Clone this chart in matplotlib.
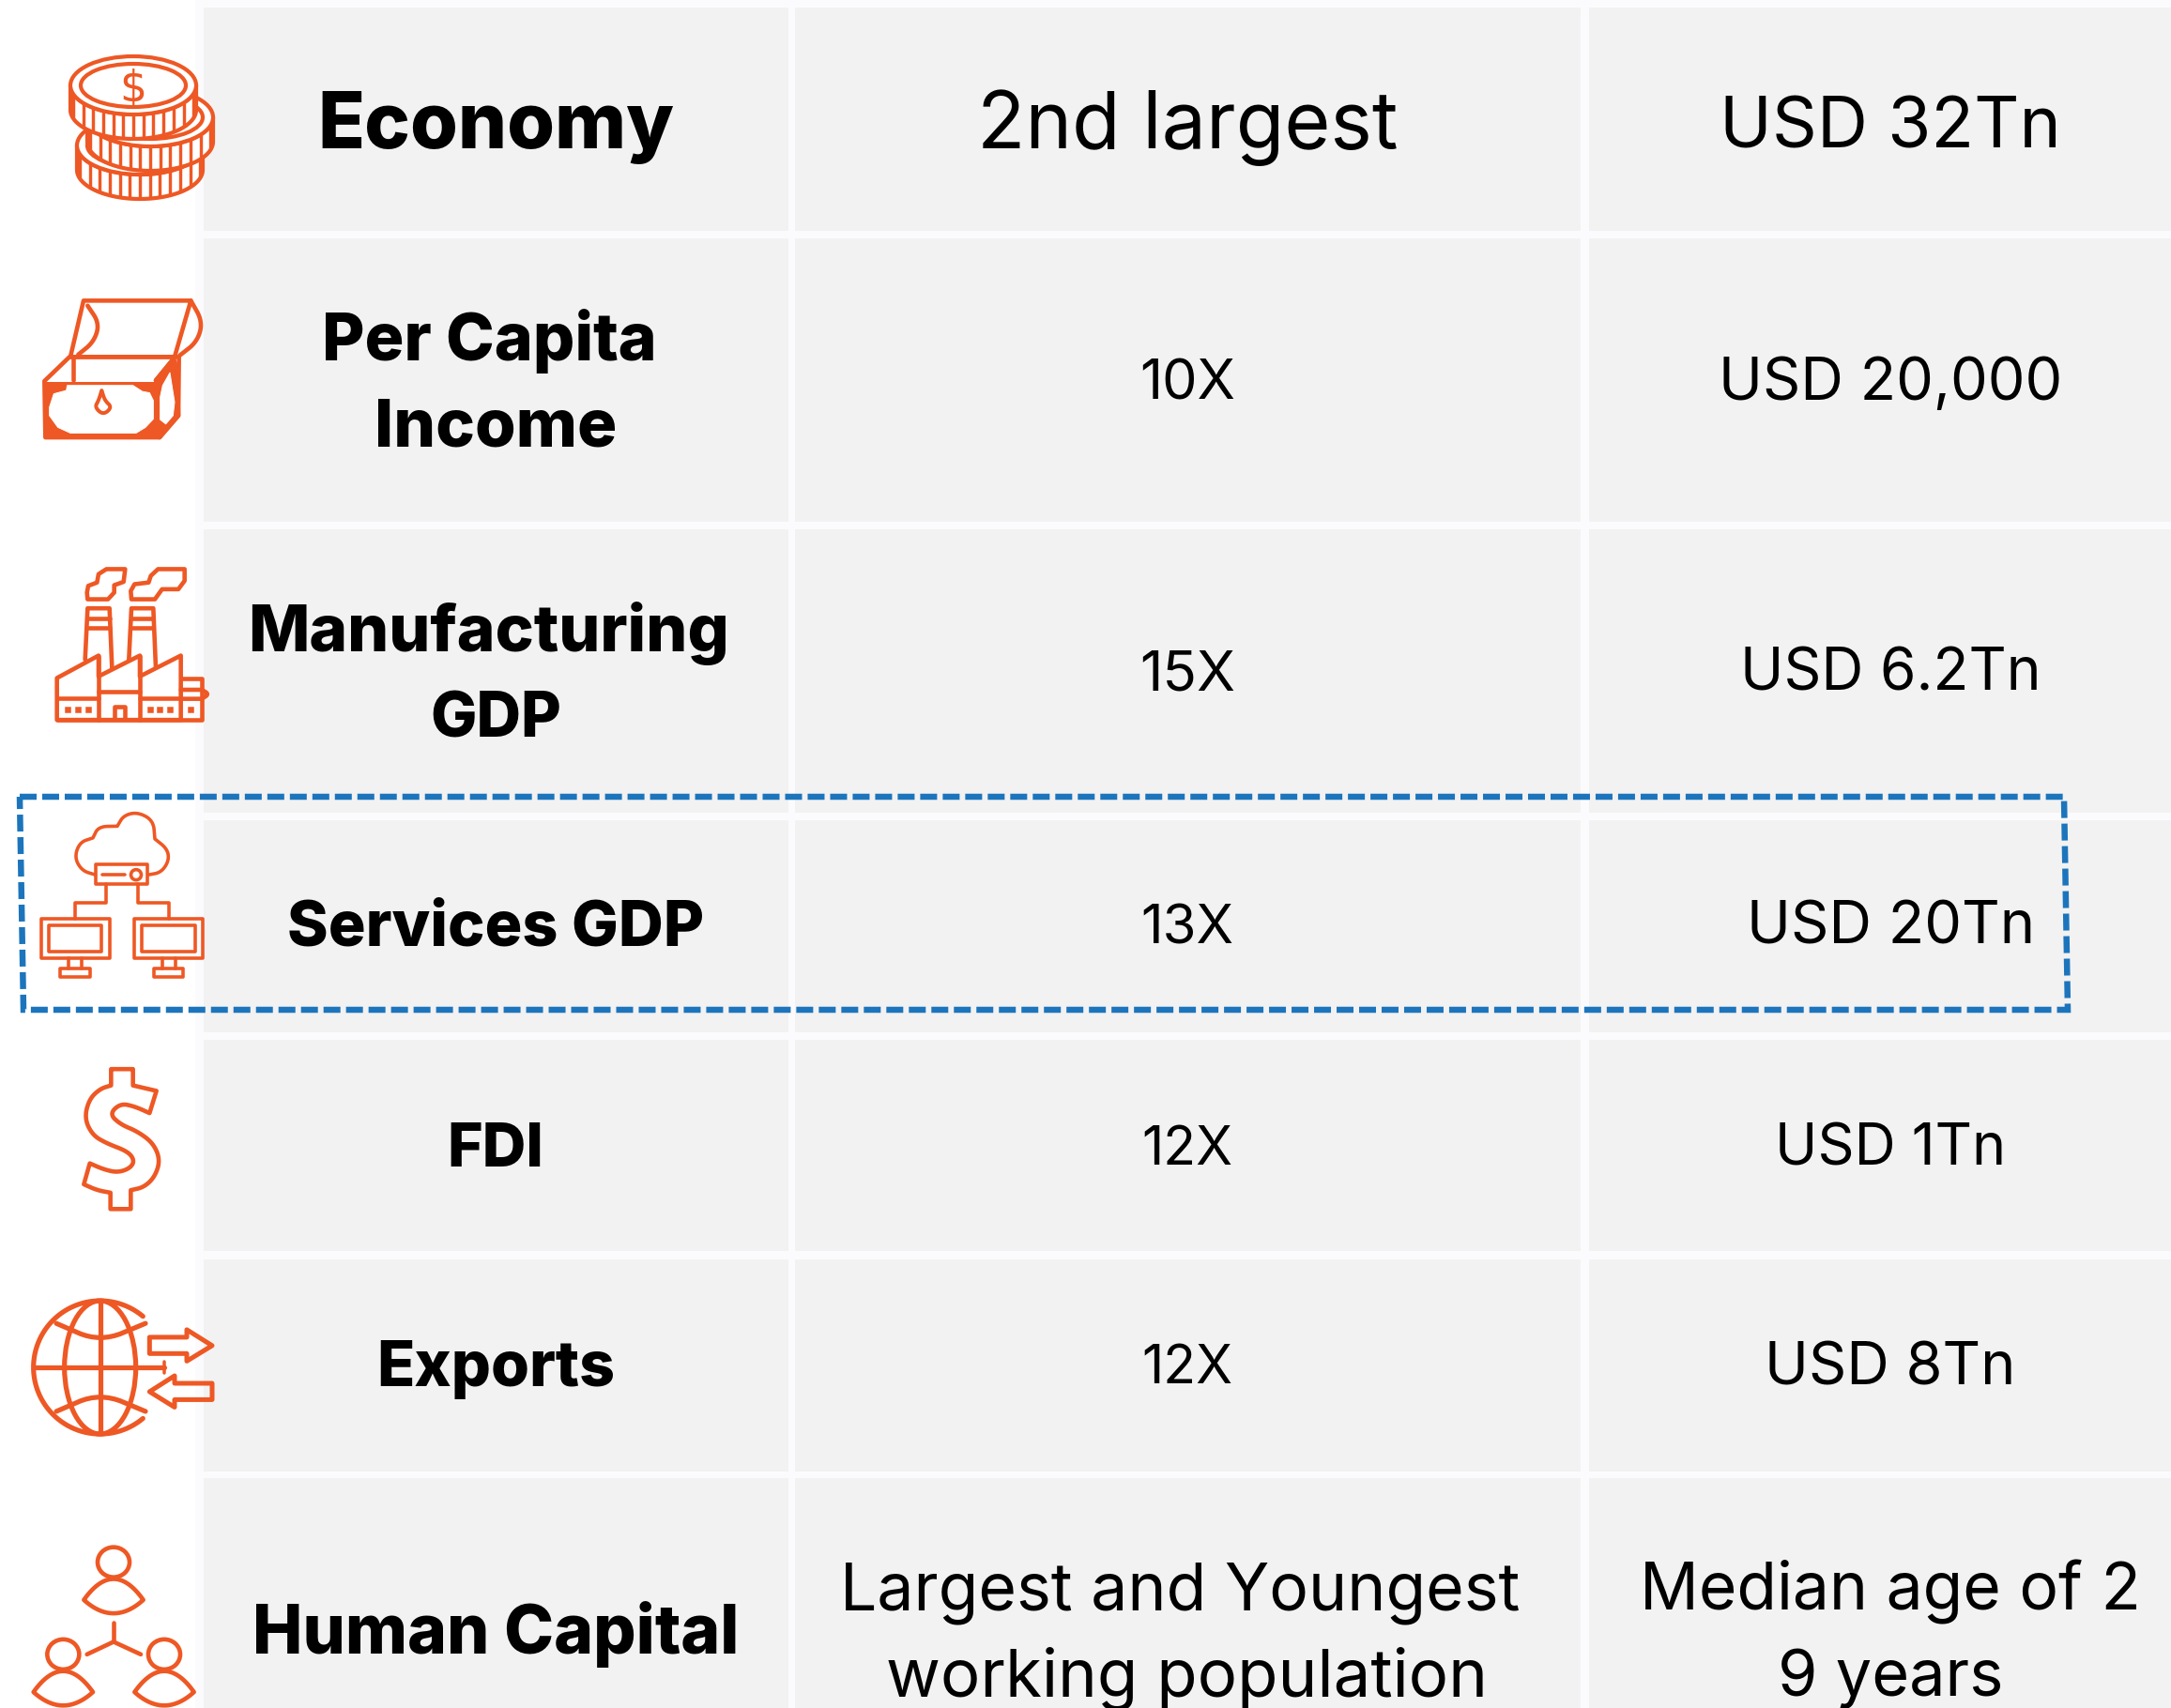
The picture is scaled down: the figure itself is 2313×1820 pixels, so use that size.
import numpy as np
import matplotlib
matplotlib.use("Agg")
import matplotlib.pyplot as plt
from matplotlib.patches import Polygon, Rectangle, Ellipse

# -- 1. Table content -------------------------------------------------
ROW_LABELS = [["Economy"], ["Per Capita", "Income"], ["Manufacturing", "GDP"],
              ["Services GDP"], ["FDI"], ["Exports"], ["Human Capital"]]
COL2_VALUES = [["2nd largest"], ["10X"], ["15X"], ["13X"], ["12X"], ["12X"],
               ["Largest and Youngest", "working population"]]
COL3_VALUES = [["USD 32Tn"], ["USD 20,000"], ["USD 6.2Tn"], ["USD 20Tn"],
               ["USD 1Tn"], ["USD 8Tn"], ["Median age of 2", "9 years"]]

# -- 2. Layout (figure pixels) ----------------------------------------
W, H, DPI = 2313, 1820, 100
ROW_EDGES = [(8, 246), (254, 556), (564, 866), (874, 1100), (1108, 1333),
             (1342, 1568), (1575, 1825)]
COL_EDGES = [(217, 840), (847, 1684), (1693, 2320)]
# text widths, line centres and baselines, same shape as the lists above
LABEL_WIDTHS = [[380], [357, 258], [513, 140], [444], [103], [254], [519]]
COL2_WIDTHS = [[448], [102], [102], [99], [97], [97], [724, 640]]
COL3_WIDTHS = [[363], [366], [320], [307], [246], [267], [534, 240]]
LABEL_X = [[528], [521, 528], [521, 528], [528], [528], [528], [528]]
COL2_X = [[1265], [1265], [1265], [1265], [1265], [1265], [1257, 1265]]
COL3_X = [[2014], [2014], [2014], [2015], [2014], [2014], [2014, 2014]]
LABEL_BASE = [[158], [384, 476], [694, 785], [1008], [1243], [1477], [1762]]
COL2_BASE = [[158], [425], [735], [1005], [1241], [1474], [1715, 1807]]
COL3_BASE = [[157], [426], [736], [1006], [1241], [1476], [1715, 1807]]
START_SIZE = 46

ORANGE = "#EE5824"
BLUE = "#1C75BC"
CELL = "#F2F2F2"
GAP = "#FBFBFD"

fig = plt.figure(figsize=(W / DPI, H / DPI), dpi=DPI, facecolor="white")
ax = fig.add_axes([0, 0, 1, 1])
ax.set_xlim(0, W)
ax.set_ylim(H, 0)
ax.axis("off")
renderer = fig.canvas.get_renderer()


def px(width):
    return width * 72 / DPI


# zoomed crop coordinates -> figure pixels
def z1(pts):
    return [(p[0] / 3, p[1] / 2.8) + tuple(p[2:]) for p in pts]


def z2(pts):
    return [(p[0] / 3, 560 + p[1] / 2.8) + tuple(p[2:]) for p in pts]


def z3(pts):
    return [(p[0] / 3, 1120 + p[1] / 2.24) + tuple(p[2:]) for p in pts]


def smooth(pts, closed=True, rounds=3):
    # corner cutting, a point given as (x, y, 1) stays a sharp corner
    arr = []
    for p in pts:
        arr.append(p[:2])
        if len(p) > 2:
            arr.append(p[:2])
    arr = np.array(arr, dtype=float)
    for _ in range(rounds):
        nxt = np.roll(arr, -1, axis=0) if closed else arr[1:]
        cur = arr if closed else arr[:-1]
        q = 0.75 * cur + 0.25 * nxt
        r = 0.25 * cur + 0.75 * nxt
        new = np.empty((len(cur) * 2, 2))
        new[0::2] = q
        new[1::2] = r
        if not closed:
            new = np.vstack([arr[0], new, arr[-1]])
        arr = new
    return arr


def shape(pts, lw=4.6, closed=True, fill="none", edge=ORANGE):
    pts = np.array([p[:2] for p in pts], dtype=float)
    ax.add_patch(Polygon(pts, closed=closed, facecolor=fill, edgecolor=edge,
                         linewidth=px(lw), joinstyle="round", capstyle="round"))


def curve(pts, lw=4.6, closed=True, fill="none"):
    shape(smooth(pts, closed), lw, closed, fill)


def oval(x, y, rx, ry, lw=4.6, fill="white"):
    ax.add_patch(Ellipse((x, y), 2 * rx, 2 * ry, facecolor=fill,
                         edgecolor=ORANGE, linewidth=px(lw)))


def put_text(x, base, line, width, weight):
    # no Poppins here, so each line is sized to the width it has in the picture
    t = ax.text(x, base, line, ha="center", va="baseline", color="black",
                family="Inter", weight=weight, fontsize=START_SIZE)
    t.set_fontsize(START_SIZE * width / t.get_window_extent(renderer).width)


# -- 3. Table cells ---------------------------------------------------
ax.add_patch(Rectangle((208, 0), W - 208, H, facecolor=GAP, edgecolor="none"))
for y0, y1 in ROW_EDGES:
    for x0, x1 in COL_EDGES:
        ax.add_patch(Rectangle((x0, y0), x1 - x0, y1 - y0, facecolor=CELL, edgecolor="none"))

# -- 4. Text ----------------------------------------------------------
for i in range(len(ROW_LABELS)):
    for j, line in enumerate(ROW_LABELS[i]):
        put_text(LABEL_X[i][j], LABEL_BASE[i][j], line, LABEL_WIDTHS[i][j], 800)
    for j, line in enumerate(COL2_VALUES[i]):
        put_text(COL2_X[i][j], COL2_BASE[i][j], line, COL2_WIDTHS[i][j], "normal")
    for j, line in enumerate(COL3_VALUES[i]):
        put_text(COL3_X[i][j], COL3_BASE[i][j], line, COL3_WIDTHS[i][j], "normal")


# -- 5. Icons ---------------------------------------------------------
def coin(cx, cy, order):
    rx, ry, depth = 67, 31, 26
    t = np.linspace(0, np.pi, 60)
    lower = np.column_stack([cx + rx * np.cos(t), cy + ry * np.sin(t)])
    before = len(ax.patches)
    shape(np.vstack([[[cx + rx, cy]], lower + [0, depth], [[cx - rx, cy]]]), lw=4.2, fill="white")
    shape(lower, lw=4.2, closed=False)
    for k in range(-6, 7):
        dx = k * 10.7
        y0 = cy + ry * np.sqrt(1 - (dx / rx) ** 2)
        ax.plot([cx + dx, cx + dx], [y0, y0 + depth - 1], color=ORANGE, lw=px(3.4),
                zorder=order + 0.05, solid_capstyle="butt")
    oval(cx, cy, rx, ry, lw=4.2, fill="white")
    oval(cx, cy, 56, 23, lw=4.2, fill="white")
    for p in ax.patches[before:]:
        p.set_zorder(order)


coin(149, 155, 1.1)
coin(160, 125, 1.2)
coin(142, 91, 1.3)
ax.text(142, 108, "$", color=ORANGE, ha="center", va="baseline", fontsize=33, family="DejaVu Sans", zorder=2)

# chest
shape(z1([(267, 897), (610, 897), (558, 1065), (225, 1065)]))
curve(z1([(280, 912, 1), (318, 965), (300, 1020), (250, 1058, 1)]), closed=False)
curve(z1([(610, 897, 1), (648, 960), (630, 1020), (575, 1060, 1)]), closed=False)
shape(z1([(142, 1137), (222, 1065), (572, 1065), (570, 1240), (510, 1305), (145, 1305)]))
shape(z1([(235, 1065), (235, 1135)]), closed=False)
shape(z1([(498, 1135), (555, 1070)]), closed=False)
shape(z1([(142, 1140), (505, 1140), (505, 1305), (145, 1305)]), lw=1, fill=ORANGE)
shape(z1([(215, 1150), (425, 1150), (455, 1168), (478, 1172), (490, 1195), (490, 1250), (465, 1275),
          (435, 1292), (225, 1292), (185, 1275), (158, 1240), (158, 1215), (172, 1175), (212, 1165)]),
      lw=1, fill="white", edge="white")
shape(z1([(565, 1100), (570, 1240), (510, 1305), (505, 1140), (498, 1135), (555, 1070)]), lw=4.6, fill=ORANGE)
shape(z1([(543, 1112), (558, 1200), (553, 1240), (530, 1265), (512, 1252), (512, 1185), (520, 1150)]),
      lw=1, fill="white", edge="white")
curve(z1([(325, 1165, 1), (335, 1195), (358, 1215), (330, 1238), (303, 1215), (315, 1195)]), lw=4)

# factory
shape(z2([(280, 220), (345, 220), (365, 200), (365, 178), (395, 168), (400, 130), (340, 130),
          (315, 145), (310, 170), (282, 180), (278, 200)]))
shape(z2([(420, 220), (495, 220), (518, 190), (570, 190), (590, 165), (590, 130), (505, 130),
          (482, 150), (475, 170), (430, 175), (418, 195)]))
for off in (0, 140):
    shape(z2([(272 + off, 400), (280 + off, 247), (350 + off, 247), (358 + off, 425)]), closed=False)
    shape(z2([(280 + off, 277), (350 + off, 277)]), closed=False)
    shape(z2([(280 + off, 305), (350 + off, 305)]), closed=False)
shape(z2([(182, 580), (182, 455), (315, 388), (315, 450), (447, 388), (447, 450), (578, 388), (578, 580)]),
      fill="white")
shape(z2([(182, 580), (645, 580), (645, 455), (578, 455)]), closed=False)
for x in (315, 447):
    shape(z2([(x, 388), (x, 580)]), closed=False)
shape(z2([(182, 515), (315, 515)]), closed=False)
shape(z2([(315, 495), (447, 495)]), closed=False)
shape(z2([(447, 515), (578, 515)]), closed=False)
curve(z2([(578, 490, 1), (645, 490, 1), (668, 503), (645, 517, 1), (578, 517, 1)]), closed=False)
shape(z2([(365, 578), (365, 540), (398, 540), (398, 578)]), closed=False)
for x in (215, 249, 282, 480, 510, 543, 609):
    shape(z2([(x - 9, 540), (x + 9, 540), (x + 9, 556), (x - 9, 556)]), lw=0.5, fill=ORANGE)

# cloud and computers
LW = 3.6
curve(z2([(305, 1042, 1), (262, 1030), (238, 990), (255, 945), (297, 932, 1), (315, 898), (375, 897, 1),
          (395, 865), (440, 855), (490, 880), (495, 935, 1), (535, 965), (540, 1000), (515, 1035),
          (475, 1042, 1)]), lw=LW, closed=False)
shape(z2([(307, 1012), (472, 1012), (472, 1070), (307, 1070)]), lw=LW)
shape(z2([(328, 1042), (400, 1042)]), lw=LW, closed=False)
oval(435 / 3, 560 + 1042 / 2.8, 5.5, 5.5, lw=LW, fill="none")
shape(z2([(340, 1070), (340, 1125), (240, 1125), (240, 1172)]), lw=LW, closed=False)
shape(z2([(440, 1070), (440, 1125), (540, 1125), (540, 1172)]), lw=LW, closed=False)
for off in (0, 298):
    shape(z2([(132 + off, 1172), (350 + off, 1172), (350 + off, 1292), (132 + off, 1292)]), lw=LW)
    shape(z2([(155 + off, 1192), (325 + off, 1192), (325 + off, 1270), (155 + off, 1270)]), lw=LW)
    shape(z2([(220 + off, 1292), (220 + off, 1322)]), lw=LW, closed=False)
    shape(z2([(262 + off, 1292), (262 + off, 1322)]), lw=LW, closed=False)
    shape(z2([(193 + off, 1322), (288 + off, 1322), (288 + off, 1348), (193 + off, 1348)]), lw=LW)

# big dollar
curve(z3([(355, 43, 1), (425, 43, 1), (425, 82, 1), (500, 95, 1), (478, 148, 1), (430, 132), (385, 125),
          (350, 150), (385, 175), (440, 192), (490, 220), (512, 260), (495, 300), (460, 325), (418, 332, 1),
          (418, 377, 1), (353, 377, 1), (353, 338, 1), (310, 332), (268, 318, 1), (287, 268, 1),
          (330, 282), (375, 290), (415, 280), (430, 262), (410, 240), (340, 220), (295, 200), (270, 160),
          (285, 115), (320, 90), (355, 82, 1)]), lw=4.6)

# globe
gx, gy, gr = 320 / 3, 1120 + 755 / 2.24, 71
ang = np.radians(np.linspace(-50, -310, 80))
shape(np.column_stack([gx + gr * np.cos(ang), gy + gr * np.sin(ang)]), lw=5.2, closed=False)
oval(gx, gy, 38, gr, lw=5.2, fill="none")
shape(z3([(320, 600), (320, 910)]), lw=5.2, closed=False)
shape(z3([(115, 755), (525, 755)]), lw=5.2, closed=False)
shape(z3([(525, 742), (525, 768)]), lw=3.5, closed=False)
curve(z3([(180, 650, 1), (320, 695), (465, 650, 1)]), lw=5.2, closed=False)
curve(z3([(180, 860, 1), (320, 815), (465, 860, 1)]), lw=5.2, closed=False)
shape(z3([(478, 683), (597, 683), (597, 665), (678, 703), (597, 740), (597, 722), (478, 722)]), lw=5)
shape(z3([(678, 793), (558, 793), (558, 775), (478, 813), (558, 850), (558, 832), (678, 832)]), lw=5)


# people
def person(cx, top):
    x, y = cx / 3, 1120 + top / 2.24
    oval(x, y, 17, 16)
    dx = np.linspace(-95, 95, 41)
    upper = top + 40 + 50 * (dx / 95) ** 2
    under = top + 122 - 32 * (dx / 95) ** 2
    shape(z3(list(zip(cx + dx, upper)) + list(zip(cx + dx[::-1], under[::-1]))))


person(363, 1220)
person(202, 1440)
person(525, 1440)
shape(z3([(363, 1365), (363, 1410)]), closed=False)
shape(z3([(278, 1440), (363, 1410), (450, 1440)]), closed=False)

# -- 6. Dashed highlight box ------------------------------------------
BOX = [(21, 849), (2199, 849), (2203, 1076), (25, 1076), (21, 849)]
ax.plot(*zip(*BOX), color=BLUE, lw=px(6.5), dashes=(2.77, 0.92), dash_capstyle="butt",
        dash_joinstyle="miter", zorder=5)

fig.savefig("out.png", dpi=DPI, facecolor="white")
plt.close(fig)
